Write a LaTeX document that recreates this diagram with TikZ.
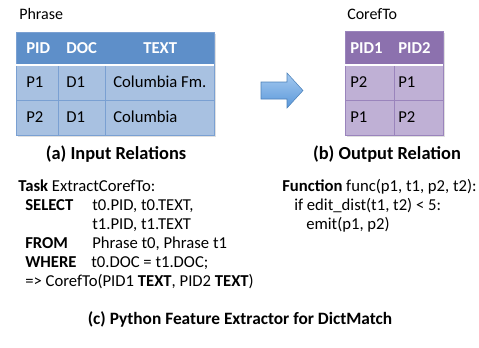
\documentclass[tikz,border=0pt]{standalone}
\usepackage{fontspec}
\setmainfont{Carlito}
\definecolor{inhead}{HTML}{5E8FC9}
\definecolor{inrow}{HTML}{A8C1E1}
\definecolor{inline}{HTML}{7AA0D2}
\definecolor{outhead}{HTML}{8C71AE}
\definecolor{outrow}{HTML}{BFB0D5}
\definecolor{outline}{HTML}{9A84BC}
\definecolor{arrowtop}{HTML}{A6CAF0}
\definecolor{arrowbot}{HTML}{5A98DA}
\tikzset{
  hcell/.style={anchor=base west,inner sep=0pt,font=\fontsize{12.5}{14}\selectfont\bfseries,text=white},
  cell/.style={anchor=base west,inner sep=0pt,font=\fontsize{12.5}{14}\selectfont},
  tname/.style={anchor=base west,inner sep=0pt,font=\fontsize{12}{14}\selectfont},
  caption/.style={anchor=base,inner sep=0pt,font=\fontsize{13.8}{16}\selectfont\bfseries},
  code/.style={anchor=base west,inner sep=0pt,font=\fontsize{12.5}{15}\selectfont},
  shadow/.style={fill=black!12},
}
\begin{document}
\begin{tikzpicture}[x=0.75pt,y=-0.75pt]
\useasboundingbox (0,0) rectangle (479,347);

% input relation: Phrase
\node[tname] (phrase) at (19,19) {Phrase};
\fill[shadow] (17.5,33.5) rectangle (215.5,136.5);
\fill[inrow] (16,64) rectangle (214,135);
\fill[inhead] (16,32) rectangle (214,64);
\draw[inline] (16,32) rectangle (214,135);
\draw[inline] (16,100) -- (214,100);
\draw[inline] (58,66) -- (58,135) (105,66) -- (105,135);
\draw[white,line width=1.5pt] (16,65) -- (214,65);
\node[hcell] (pid) at (26,53) {PID};
\node[hcell] (doc) at (66,53) {DOC};
\node[hcell] (text) at (143,53) {TEXT};
\node[cell] (pa) at (26,87) {P1};
\node[cell] (da) at (66,87) {D1};
\node[cell] (ta) at (113,87) {Columbia Fm.};
\node[cell] (pb) at (26,122) {P2};
\node[cell] (db) at (66,122) {D1};
\node[cell] (tb) at (113,122) {Columbia};
\node[caption] (capa) at (116,159) {(a) Input Relations};

% block arrow
\path[draw=arrowbot!85!black,top color=arrowtop,bottom color=arrowbot]
  (261,82) -- (287,82) -- (287,73) -- (303,90.5) -- (287,108)
  -- (287,99) -- (261,99) -- cycle;

% output relation: CorefTo
\node[tname] (coref) at (347,19) {CorefTo};
\fill[shadow] (346.5,32.5) rectangle (444.5,136.5);
\fill[outrow] (345,64) rectangle (443,135);
\fill[outhead] (345,31) rectangle (443,64);
\draw[outline] (345,31) rectangle (443,135);
\draw[outline] (345,100) -- (443,100);
\draw[outline] (394,66) -- (394,135);
\draw[white,line width=1.5pt] (345,65) -- (443,65);
\node[hcell] (pidone) at (350,53) {PID1};
\node[hcell] (pidtwo) at (398,53) {PID2};
\node[cell] (pc) at (350,87) {P2};
\node[cell] (qc) at (398,87) {P1};
\node[cell] (pd) at (350,122) {P1};
\node[cell] (qd) at (398,122) {P2};
\node[caption] (capb) at (387,159) {(b) Output Relation};

% the extractor code
\node[code] (task) at (18,191) {\textbf{Task} ExtractCorefTo:};
\node[code] (sel) at (25,210) {\textbf{SELECT}};
\node[code] (sela) at (92,210) {t0.PID, t0.TEXT,};
\node[code] (selb) at (92,229) {t1.PID, t1.TEXT};
\node[code] (from) at (25,248) {\textbf{FROM}};
\node[code] (froma) at (92,248) {Phrase t0, Phrase t1};
\node[code] (where) at (25,267) {\textbf{WHERE}};
\node[code] (wherea) at (91,267) {t0.DOC = t1.DOC;};
\node[code] (emitrel) at (25,286) {=> CorefTo(PID1 \textbf{TEXT}, PID2 \textbf{TEXT})};

\node[code] (func) at (282,191) {\textbf{Function} func(p1, t1, p2, t2):};
\node[code] (cond) at (294,210) {if edit\_dist(t1, t2) < 5:};
\node[code] (emit) at (306,229) {emit(p1, p2)};

\node[caption,font=\fontsize{13}{16}\selectfont\bfseries] (capc) at (240,324) {(c) Python Feature Extractor for DictMatch};
\end{tikzpicture}
\end{document}
